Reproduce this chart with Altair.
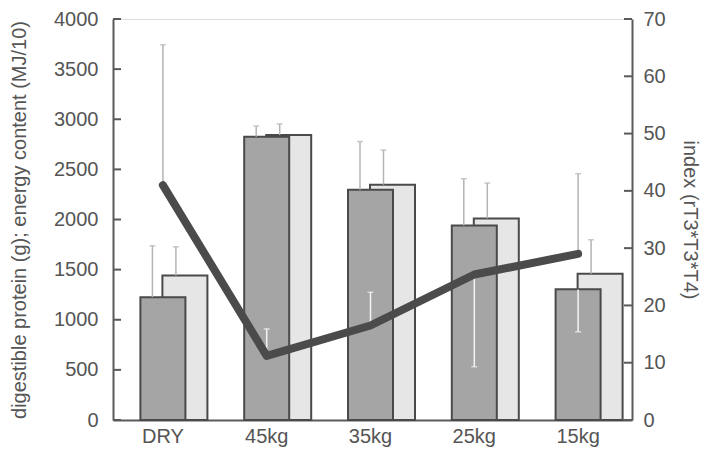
import altair as alt
import pandas as pd

categories = ["DRY", "45kg", "35kg", "25kg", "15kg"]

# left axis: digestible protein (g) -- dark bars, energy content (MJ/10) -- light bars
protein = [1225, 2825, 2298, 1939, 1304]
protein_err_top = [1738, 2933, 2778, 2407, None]
energy = [1442, 2842, 2347, 2011, 1459]
energy_err_top = [1728, 2953, 2693, 2364, 1798]

# right axis: index (rT3*T3*T4) -- thick line
index_vals = [41.0, 11.2, 16.5, 25.4, 29.0]
index_err_up = [65.5, None, None, None, 43.0]
# light (white) error segments drawn over the bars
white_lo = [None, 11.2, 16.5, 9.3, 15.4]
white_hi = [None, 15.9, 22.3, 25.4, 22.8]
white_cap = [None, 15.9, 22.3, 9.3, 15.4]

left_ticks = [0, 500, 1000, 1500, 2000, 2500, 3000, 3500, 4000]
right_ticks = [0, 10, 20, 30, 40, 50, 60, 70]

df = pd.DataFrame({
    "cat": categories,
    "protein": protein,
    "protein_err": protein_err_top,
    "energy": energy,
    "energy_err": energy_err_top,
    "index": index_vals,
    "index_up": index_err_up,
    "white_lo": white_lo,
    "white_hi": white_hi,
    "white_cap": white_cap,
})
lt = pd.DataFrame({"t": left_ticks})
rt = pd.DataFrame({"t": right_ticks})

W, H = 519, 401
AX = "#5a5a5a"
TXT = "#555555"
ERR = "#b4b4b4"
WHITE = "#f4f4f4"
FONT = "Liberation Sans"

xscale = alt.Scale(paddingInner=0, paddingOuter=0)
xaxis = alt.Axis(title=None, ticks=False, labelPadding=22, labelBaseline="alphabetic",
                 labelOffset=-2, labelAngle=0, grid=False,
                 domainColor=AX, domainWidth=2, labelFontSize=20,
                 labelColor=TXT, labelFont=FONT)
lscale = alt.Scale(domain=[0, 4000], nice=False)
rscale = alt.Scale(domain=[0, 70], nice=False)
laxis = alt.Axis(title="digestible protein (g); energy content (MJ/10)",
                 values=left_ticks, format="d", ticks=False, grid=False,
                 labelPadding=15, titlePadding=24,
                 domainColor=AX, domainWidth=2,
                 labelFontSize=20, titleFontSize=20,
                 labelColor=TXT, titleColor=TXT,
                 labelFont=FONT, titleFont=FONT, titleFontWeight="normal")
raxis = alt.Axis(title="index (rT3*T3*T4)", orient="right",
                 values=right_ticks, format="d", ticks=False, grid=False,
                 labelPadding=11, titlePadding=14,
                 domainColor=AX, domainWidth=2,
                 labelFontSize=20, titleFontSize=20,
                 labelColor=TXT, titleColor=TXT,
                 labelFont=FONT, titleFont=FONT, titleFontWeight="normal")


def X():
    return alt.X("cat:N", sort=categories, scale=xscale, axis=xaxis)


def YL(field):
    return alt.Y(field, scale=lscale, axis=laxis)


def YR(field):
    return alt.Y(field, scale=rscale, axis=raxis)


base = alt.Chart(df)

light = base.mark_bar(width=45, xOffset=20, fill="#e6e6e6", stroke="#4a4a4a",
                      strokeWidth=2).encode(x=X(), y=YL("energy:Q"))
dark = base.mark_bar(width=45, xOffset=-2, fill="#a5a5a5", stroke="#4a4a4a",
                     strokeWidth=2).encode(x=X(), y=YL("protein:Q"))

p_err = base.mark_rule(xOffset=-12.5, color=ERR, strokeWidth=1.5).encode(
    x=X(), y=YL("protein:Q"), y2="protein_err:Q")
p_cap = base.mark_tick(xOffset=-12.5, color=ERR, size=6, thickness=1.5).encode(
    x=X(), y=YL("protein_err:Q"))
e_err = base.mark_rule(xOffset=11, color=ERR, strokeWidth=1.5).encode(
    x=X(), y=YL("energy:Q"), y2="energy_err:Q")
e_cap = base.mark_tick(xOffset=11, color=ERR, size=6, thickness=1.5).encode(
    x=X(), y=YL("energy_err:Q"))

lticks = alt.Chart(lt).mark_rule(color=AX, strokeWidth=2).encode(
    y=YL("t:Q"), x=alt.value(0), x2=alt.value(8))

left = alt.layer(light, dark, p_err, p_cap, e_err, e_cap, lticks)

i_up = base.mark_rule(xOffset=-2, color=ERR, strokeWidth=1.5).encode(
    x=X(), y=YR("index:Q"), y2="index_up:Q")
i_upcap = base.mark_tick(xOffset=-2, color=ERR, size=6, thickness=1.5).encode(
    x=X(), y=YR("index_up:Q"))
w_seg = base.mark_rule(xOffset=-2, color=WHITE, strokeWidth=1.5).encode(
    x=X(), y=YR("white_lo:Q"), y2="white_hi:Q")
w_cap = base.mark_tick(xOffset=-2, color=WHITE, size=6, thickness=1.5).encode(
    x=X(), y=YR("white_cap:Q"))
line = base.mark_line(xOffset=-2, color="#4b4b4b", strokeWidth=8,
                      strokeCap="round", strokeJoin="round").encode(
    x=X(), y=YR("index:Q"))
rticks = alt.Chart(rt).mark_rule(color=AX, strokeWidth=2).encode(
    y=YR("t:Q"), x=alt.value(W - 8), x2=alt.value(W))

right = alt.layer(i_up, i_upcap, w_seg, w_cap, line, rticks)

chart = alt.layer(left, right).resolve_scale(y="independent").properties(
    width=W, height=H,
    autosize=alt.AutoSizeParams(type="none"),
    padding={"left": 105, "top": 11, "right": 69, "bottom": 27},
).configure_view(stroke=None).configure(background="white")

chart.save("out.html", embed_options={"renderer": "svg", "actions": False})
